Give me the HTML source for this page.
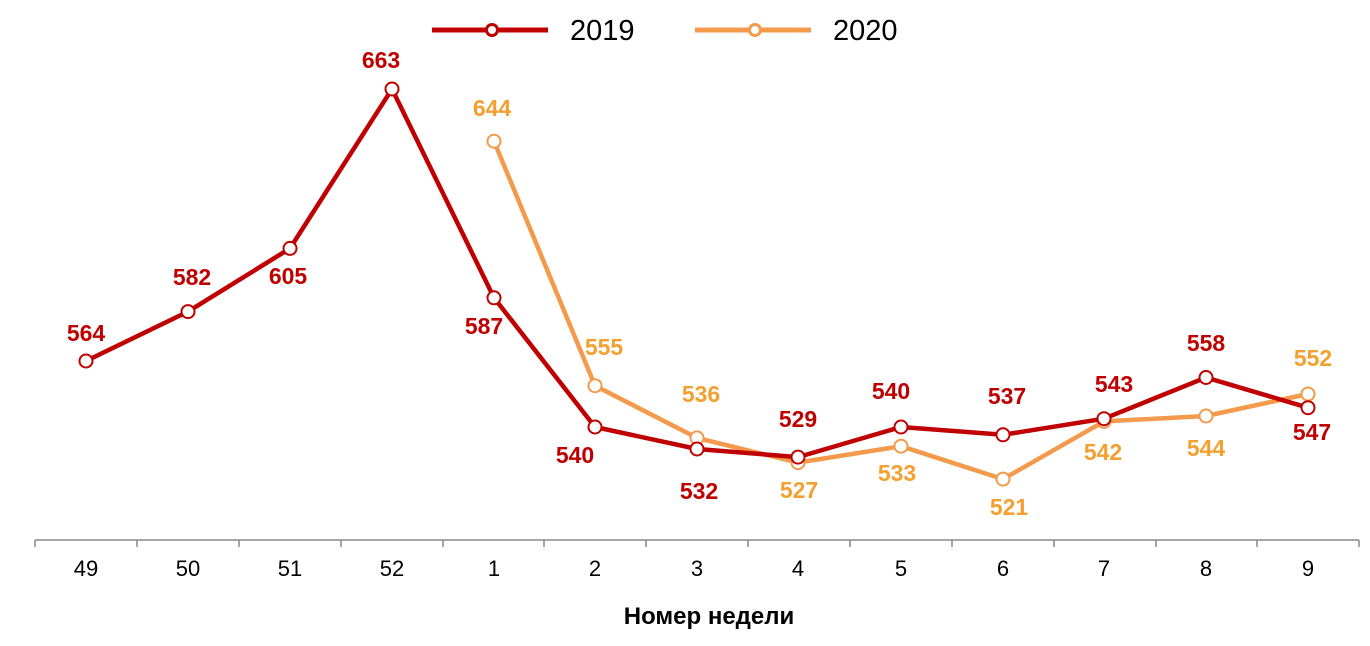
<!DOCTYPE html>
<html><head><meta charset="utf-8"><style>
html,body{margin:0;padding:0;background:#fff;}
svg{display:block;font-family:"Liberation Sans",sans-serif;}
.l19{fill:#C00000;font-weight:bold;font-size:23px;}
.l20{fill:#F3A030;font-weight:bold;font-size:23px;}
.ax{fill:#000;font-size:22px;}
</style></head><body>
<svg width="1370" height="646" viewBox="0 0 1370 646">
<line x1="432" y1="30" x2="548" y2="30" stroke="#C00000" stroke-width="5"/>
<circle cx="492" cy="30" r="5.5" fill="#fff" stroke="#C00000" stroke-width="3"/>
<text x="570" y="40" font-size="29" fill="#000">2019</text>
<line x1="695" y1="30" x2="811" y2="30" stroke="#F39A4C" stroke-width="5"/>
<circle cx="755" cy="30" r="5.5" fill="#fff" stroke="#F39A4C" stroke-width="3"/>
<text x="833" y="40" font-size="29" fill="#000">2020</text>
<line x1="35" y1="540" x2="1359" y2="540" stroke="#888" stroke-width="1.5"/>
<g stroke="#888" stroke-width="1.5">
<line x1="35" y1="540" x2="35" y2="547"/><line x1="137" y1="540" x2="137" y2="547"/><line x1="239" y1="540" x2="239" y2="547"/><line x1="341" y1="540" x2="341" y2="547"/><line x1="443" y1="540" x2="443" y2="547"/><line x1="544" y1="540" x2="544" y2="547"/><line x1="646" y1="540" x2="646" y2="547"/><line x1="748" y1="540" x2="748" y2="547"/><line x1="850" y1="540" x2="850" y2="547"/><line x1="952" y1="540" x2="952" y2="547"/><line x1="1054" y1="540" x2="1054" y2="547"/><line x1="1156" y1="540" x2="1156" y2="547"/><line x1="1257" y1="540" x2="1257" y2="547"/><line x1="1359" y1="540" x2="1359" y2="547"/>
</g>
<g class="ax" text-anchor="middle">
<text x="86" y="576">49</text><text x="188" y="576">50</text><text x="290" y="576">51</text><text x="392" y="576">52</text><text x="494" y="576">1</text><text x="595" y="576">2</text><text x="697" y="576">3</text><text x="798" y="576">4</text><text x="901" y="576">5</text><text x="1003" y="576">6</text><text x="1104" y="576">7</text><text x="1206" y="576">8</text><text x="1308" y="576">9</text>
</g>
<text x="709" y="624" text-anchor="middle" font-size="24" font-weight="bold">Номер недели</text>
<polyline fill="none" stroke="#F39A4C" stroke-width="4.5" stroke-linejoin="round" points="494,141.2 595,385.7 697,437.9 798,462.6 901,446.2 1003,479.1 1104,421.4 1206,416 1308,394"/>
<g fill="#fff" stroke="#F39A4C" stroke-width="2">
<circle cx="494" cy="141.2" r="6.5"/><circle cx="595" cy="385.7" r="6.5"/><circle cx="697" cy="437.9" r="6.5"/><circle cx="798" cy="462.6" r="6.5"/><circle cx="901" cy="446.2" r="6.5"/><circle cx="1003" cy="479.1" r="6.5"/><circle cx="1104" cy="421.4" r="6.5"/><circle cx="1206" cy="416" r="6.5"/><circle cx="1308" cy="394" r="6.5"/>
</g>
<polyline fill="none" stroke="#C00000" stroke-width="4.5" stroke-linejoin="round" points="86,361 188,311.6 290,248.4 392,89 494,297.8 595,427 697,449 798,457.1 901,427 1003,434.8 1104,418.7 1206,377.5 1308,407.7"/>
<g fill="#fff" stroke="#C00000" stroke-width="2">
<circle cx="86" cy="361" r="6.5"/><circle cx="188" cy="311.6" r="6.5"/><circle cx="290" cy="248.4" r="6.5"/><circle cx="392" cy="89" r="6.5"/><circle cx="494" cy="297.8" r="6.5"/><circle cx="595" cy="427" r="6.5"/><circle cx="697" cy="449" r="6.5"/><circle cx="798" cy="457.1" r="6.5"/><circle cx="901" cy="427" r="6.5"/><circle cx="1003" cy="434.8" r="6.5"/><circle cx="1104" cy="418.7" r="6.5"/><circle cx="1206" cy="377.5" r="6.5"/><circle cx="1308" cy="407.7" r="6.5"/>
</g>
<g class="l19" text-anchor="middle" dominant-baseline="central">
<text x="86" y="333">564</text><text x="192" y="277">582</text><text x="288" y="276">605</text><text x="381" y="60">663</text><text x="484" y="326">587</text><text x="575" y="455">540</text><text x="699" y="491">532</text><text x="798" y="419">529</text><text x="891" y="391">540</text><text x="1007" y="396">537</text><text x="1114" y="384">543</text><text x="1206" y="343">558</text><text x="1312" y="432">547</text>
</g>
<g class="l20" text-anchor="middle" dominant-baseline="central">
<text x="492" y="108">644</text><text x="604" y="347">555</text><text x="701" y="394">536</text><text x="799" y="490">527</text><text x="897" y="473">533</text><text x="1009" y="507">521</text><text x="1103" y="452">542</text><text x="1206" y="448">544</text><text x="1313" y="358">552</text>
</g>
</svg>
</body></html>
